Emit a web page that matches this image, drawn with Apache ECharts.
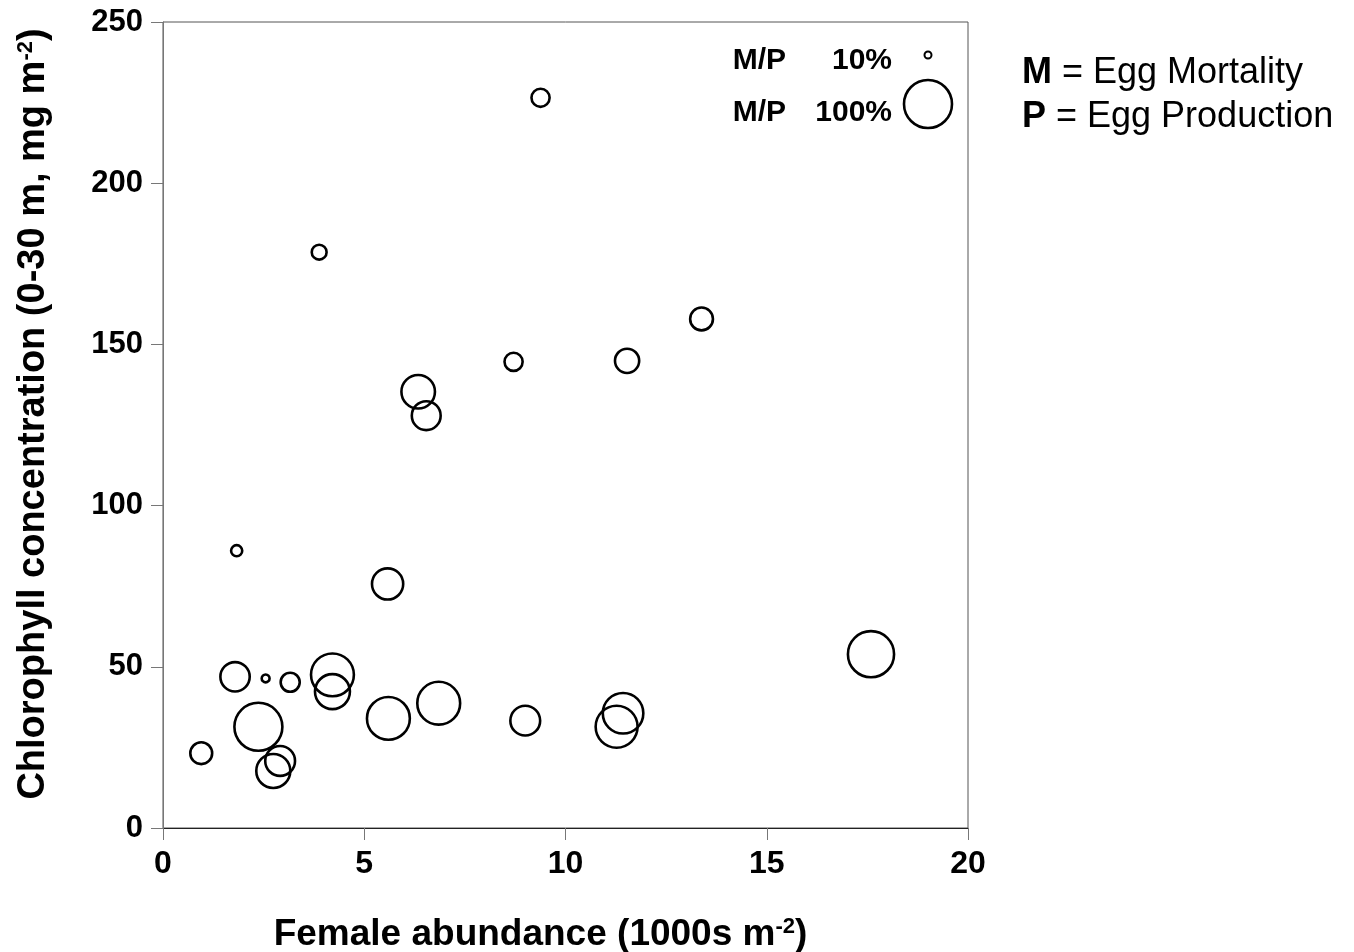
<!DOCTYPE html>
<html>
<head>
<meta charset="utf-8">
<script src="https://cdn.jsdelivr.net/npm/echarts@6/dist/echarts.min.js"></script>
<style>
  html, body { margin: 0; padding: 0; background: #fff; }
  #chart { width: 1354px; height: 952px; }
</style>
</head>
<body>
<div id="chart"></div>
<script>
// Female abundance (1000s m^-2)
const femaleAbundance = [9.38, 3.88, 13.38, 11.53, 8.71, 6.34, 6.54, 1.83, 5.58, 17.59,
  1.79, 2.55, 3.16, 4.21, 4.21, 2.37, 5.60, 6.85, 9.00, 11.43, 11.27, 0.95, 2.91, 2.74];
// Chlorophyll concentration, 0-30 m (mg m^-2)
const chlorophyll = [226.5, 178.6, 157.9, 144.9, 144.6, 135.3, 127.9, 86.0, 75.7, 53.9,
  46.9, 46.4, 45.2, 47.5, 42.3, 31.4, 34.0, 38.7, 33.3, 35.6, 31.4, 23.2, 20.8, 17.7];
// Egg mortality as a percentage of egg production (M/P)
const mortalityPct = [36, 29, 46, 49, 36, 69, 59, 21, 64, 96,
  60, 14, 38, 89, 72, 100, 89, 89, 61, 84, 87, 44, 61, 70];

const xTicks = [0, 5, 10, 15, 20];
const yTicks = [0, 50, 100, 150, 200, 250];
const keyPcts = [10, 100];

// Circle diameter grows linearly with M/P
const sizeFor = pct => 4 / 3 + pct * 14 / 30;

const FONT = '"Liberation Sans", Arial, sans-serif';
const STROKE = 2.6;

const points = femaleAbundance.map((x, i) => [x, chlorophyll[i], mortalityPct[i]]);

const chart = echarts.init(document.getElementById('chart'), null, { renderer: 'canvas' });

// Size key drawn in the upper right corner of the plot
const keyTextY = [61, 113];
const keyCircleY = [55, 104];
const keyGraphics = [];
keyPcts.forEach((p, i) => {
  keyGraphics.push({
    type: 'text', x: 786, y: keyTextY[i],
    style: { text: 'M/P', font: 'bold 30px ' + FONT, fill: '#000',
      textAlign: 'right', textVerticalAlign: 'middle' }
  });
  keyGraphics.push({
    type: 'text', x: 892, y: keyTextY[i],
    style: { text: p + '%', font: 'bold 30px ' + FONT, fill: '#000',
      textAlign: 'right', textVerticalAlign: 'middle' }
  });
  keyGraphics.push({
    type: 'circle', shape: { cx: 928, cy: keyCircleY[i], r: sizeFor(p) / 2 + (p < 50 ? 0.5 : 0) },
    style: { fill: 'none', stroke: '#000', lineWidth: p < 50 ? 2 : STROKE }
  });
});

const option = {
  backgroundColor: '#fff',
  animation: false,
  grid: { left: 163, right: 386, top: 22, bottom: 124, show: true,
    outerBoundsMode: 'none', containLabel: false,
    borderColor: '#555', borderWidth: 1, backgroundColor: 'transparent' },
  xAxis: {
    type: 'value', min: xTicks[0], max: xTicks[xTicks.length - 1], interval: 5,
    name: 'Female abundance (1000s m{sup|-2})',
    nameLocation: 'middle', nameGap: 88,
    nameTextStyle: { fontFamily: FONT, fontWeight: 'bold', fontSize: 37, color: '#000',
      padding: [0, 50, 0, 0],
      rich: { sup: { fontFamily: FONT, fontWeight: 'bold', fontSize: 22, color: '#000',
        verticalAlign: 'top', padding: [0, 0, 14, 0] } } },
    axisLine: { show: true, onZero: false, lineStyle: { color: '#222', width: 1 } },
    axisTick: { show: true, inside: false, length: 12, lineStyle: { color: '#777', width: 1 } },
    axisLabel: { fontFamily: FONT, fontWeight: 'bold', fontSize: 32, color: '#000', margin: 20 },
    splitLine: { show: false }
  },
  yAxis: {
    type: 'value', min: yTicks[0], max: yTicks[yTicks.length - 1], interval: 50,
    name: 'Chlorophyll concentration (0-30 m, mg m{sup|-2})',
    nameLocation: 'middle', nameGap: 110,
    nameTextStyle: { fontFamily: FONT, fontWeight: 'bold', fontSize: 38, color: '#000',
      padding: [0, 0, 0, 22],
      rich: { sup: { fontFamily: FONT, fontWeight: 'bold', fontSize: 22, color: '#000',
        verticalAlign: 'top', padding: [0, 0, 15, 0] } } },
    axisLine: { show: true, onZero: false, lineStyle: { color: '#777', width: 1 } },
    axisTick: { show: true, inside: false, length: 12, lineStyle: { color: '#777', width: 1 } },
    axisLabel: { fontFamily: FONT, fontWeight: 'bold', fontSize: 31, color: '#000', margin: 20 },
    splitLine: { show: false }
  },
  series: [{
    type: 'scatter',
    data: points,
    symbol: 'circle',
    symbolSize: v => sizeFor(v[2]),
    itemStyle: { color: 'rgba(0,0,0,0)', borderColor: '#000', borderWidth: STROKE, opacity: 1 },
    emphasis: { disabled: true }
  }],
  graphic: keyGraphics.concat([
    {
      type: 'text', x: 1022, y: 73,
      style: { text: '{b|M} = Egg Mortality', font: '36px ' + FONT, fill: '#000',
        textVerticalAlign: 'middle',
        rich: { b: { fontWeight: 'bold', fontSize: 36, fontFamily: FONT } } }
    },
    {
      type: 'text', x: 1022, y: 117,
      style: { text: '{b|P} = Egg Production', font: '36px ' + FONT, fill: '#000',
        textVerticalAlign: 'middle',
        rich: { b: { fontWeight: 'bold', fontSize: 36, fontFamily: FONT } } }
    }
  ])
};

chart.setOption(option);
</script>
</body>
</html>
